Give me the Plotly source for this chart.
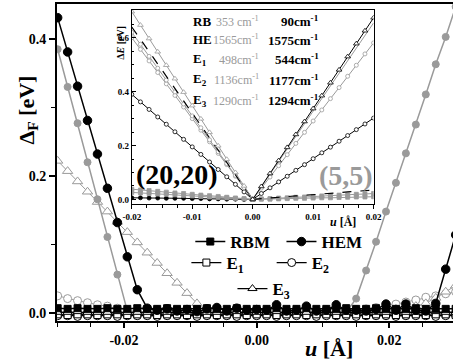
import plotly.graph_objects as go

# ---------------- main panel data ----------------
u_main = [-0.030, -0.0285, -0.027, -0.0255, -0.024, -0.0225, -0.021, -0.0195, -0.018, -0.0165,
          -0.015, -0.0135, -0.012, -0.0105, -0.009, -0.0075, -0.006, -0.0045, -0.003, -0.0015,
          0.0, 0.0015, 0.003, 0.0045, 0.006, 0.0075, 0.009, 0.0105, 0.012, 0.0135,
          0.015, 0.0165, 0.018, 0.0195, 0.021, 0.0225, 0.024, 0.0255, 0.027, 0.0285,
          0.030]

hem_2020 = [0.431, 0.381, 0.331, 0.281, 0.232, 0.182, 0.132, 0.082, 0.034, 0.007,
            0.004, 0.006, 0.003, 0.005, 0.002, 0.006, 0.008, 0.003, 0.007, 0.004,
            0.005, 0.004, 0.012, 0.003, 0.004, 0.010, 0.003, 0.004, 0.012, 0.004,
            0.004, 0.003, 0.005, 0.013, 0.004, 0.013, 0.004, 0.003, 0.014, 0.064,
            0.114]
rbm_2020 = [0.007, 0.006, 0.007, 0.006, 0.006, 0.007, 0.006, 0.006, 0.007, 0.006,
            0.006, 0.007, 0.006, 0.006, 0.006, 0.007, 0.006, 0.006, 0.007, 0.006,
            0.006, 0.006, 0.007, 0.006, 0.006, 0.007, 0.006, 0.006, 0.006, 0.007,
            0.006, 0.006, 0.007, 0.006, 0.006, 0.006, 0.007, 0.006, 0.006, 0.006,
            0.006]
e1_2020 = [-0.002, -0.003, -0.002, -0.002, -0.003, -0.002, -0.002, -0.003, -0.002, -0.002,
           -0.003, -0.002, -0.002, -0.003, -0.002, -0.002, -0.003, -0.002, -0.002, -0.003,
           -0.002, -0.002, -0.003, -0.002, -0.002, -0.003, -0.002, -0.002, -0.003, -0.002,
           -0.002, -0.003, -0.002, -0.002, -0.003, -0.002, -0.002, -0.003, -0.002, -0.002,
           -0.003]
e2_2020 = [-0.004, -0.004, -0.005, -0.004, -0.004, -0.004, -0.005, -0.004, -0.004, -0.004,
           -0.005, -0.004, -0.004, -0.004, -0.005, -0.004, -0.004, -0.004, -0.005, -0.004,
           -0.004, -0.004, -0.005, -0.004, -0.004, -0.004, -0.005, -0.004, -0.004, -0.004,
           -0.005, -0.004, -0.004, -0.004, -0.005, -0.004, -0.004, -0.004, -0.005, -0.004,
           -0.004]
e3_2020 = [0.001, 0.001, 0.002, 0.001, 0.001, 0.001, 0.002, 0.001, 0.001, 0.001,
           0.002, 0.001, 0.001, 0.001, 0.002, 0.001, 0.001, 0.001, 0.002, 0.001,
           0.001, 0.001, 0.002, 0.001, 0.001, 0.001, 0.002, 0.001, 0.001, 0.001,
           0.002, 0.001, 0.001, 0.001, 0.002, 0.001, 0.001, 0.001, 0.002, 0.001,
           0.001]

hem_55 = [0.385, 0.330, 0.277, 0.220, 0.166, 0.111, 0.056, 0.003, 0.001, 0.000,
          0.001, 0.000, 0.001, 0.000, 0.001, 0.000, 0.001, 0.000, 0.001, 0.000,
          0.001, 0.000, 0.001, 0.000, 0.001, 0.000, 0.001, 0.000, 0.001, 0.001,
          0.021, 0.062, 0.104, 0.148, 0.190, 0.233, 0.275, 0.319, 0.363, 0.403,
          0.447]
e3_55 = [0.222, 0.207, 0.192, 0.177, 0.162, 0.148, 0.133, 0.118, 0.103, 0.088,
         0.073, 0.058, 0.044, 0.029, 0.014, 0.005, 0.002, 0.003, 0.002, 0.002,
         0.001, 0.002, 0.003, 0.002, 0.002, 0.003, 0.002, 0.002, 0.003, 0.002,
         0.003, 0.004, 0.004, 0.005, 0.006, 0.008, 0.010, 0.014, 0.022, 0.031,
         0.040]
e2_55 = [0.025, 0.021, 0.018, 0.015, 0.012, 0.010, 0.007, 0.004, 0.002, 0.001,
         0.000, 0.000, 0.000, 0.000, 0.000, 0.000, 0.000, 0.000, 0.000, 0.000,
         0.000, 0.000, 0.000, 0.000, 0.000, 0.000, 0.000, 0.001, 0.001, 0.002,
         0.004, 0.006, 0.008, 0.011, 0.013, 0.016, 0.019, 0.023, 0.025, 0.028,
         0.031]
rbm_55 = [0.001, 0.002, 0.001, 0.001, 0.002, 0.001, 0.001, 0.002, 0.001, 0.001,
          0.002, 0.001, 0.001, 0.002, 0.001, 0.001, 0.002, 0.001, 0.001, 0.002,
          0.001, 0.001, 0.002, 0.001, 0.001, 0.002, 0.001, 0.001, 0.002, 0.001,
          0.001, 0.002, 0.001, 0.001, 0.002, 0.001, 0.001, 0.002, 0.001, 0.001,
          0.002]
e1_55 = [-0.003, -0.003, -0.004, -0.003, -0.003, -0.004, -0.003, -0.003, -0.004, -0.003,
         -0.003, -0.004, -0.003, -0.003, -0.004, -0.003, -0.003, -0.004, -0.003, -0.003,
         -0.004, -0.003, -0.003, -0.004, -0.003, -0.003, -0.004, -0.003, -0.003, -0.004,
         -0.003, -0.003, -0.004, -0.003, -0.003, -0.004, -0.003, -0.003, -0.004, -0.003,
         -0.003]

# ---------------- inset data ----------------
u_in_neg = [-0.02, -0.01857, -0.01714, -0.01571, -0.01429, -0.01286, -0.01143, -0.01,
            -0.00857, -0.00714, -0.00571, -0.00429, -0.00286, -0.00143, 0.0]
u_in_pos = [0.0, 0.00143, 0.00286, 0.00429, 0.00571, 0.00714, 0.00857, 0.01,
            0.01143, 0.01286, 0.01429, 0.01571, 0.01714, 0.01857, 0.02]

L1 = [0.697, 0.647, 0.597, 0.548, 0.498, 0.448, 0.398, 0.348, 0.299, 0.249, 0.199, 0.149, 0.100, 0.050, 0.0]
L2 = [0.640, 0.594, 0.549, 0.503, 0.457, 0.411, 0.366, 0.320, 0.274, 0.229, 0.183, 0.137, 0.091, 0.046, 0.0]
L3 = [0.620, 0.576, 0.531, 0.487, 0.443, 0.399, 0.354, 0.310, 0.266, 0.221, 0.177, 0.133, 0.089, 0.044, 0.0]
L4 = [0.600, 0.557, 0.514, 0.471, 0.429, 0.386, 0.343, 0.300, 0.257, 0.214, 0.171, 0.129, 0.086, 0.043, 0.0]
L5 = [0.390, 0.362, 0.334, 0.306, 0.279, 0.251, 0.223, 0.195, 0.167, 0.139, 0.111, 0.084, 0.056, 0.028, 0.0]
L6 = [0.038, 0.035, 0.033, 0.030, 0.027, 0.024, 0.022, 0.019, 0.016, 0.014, 0.011, 0.008, 0.005, 0.003, 0.0]
L7 = [0.026, 0.024, 0.022, 0.020, 0.019, 0.017, 0.015, 0.013, 0.011, 0.009, 0.007, 0.006, 0.004, 0.002, 0.0]
L8 = [0.006, 0.006, 0.005, 0.005, 0.004, 0.004, 0.004, 0.003, 0.003, 0.002, 0.002, 0.001, 0.001, 0.0, 0.0]

R1 = [0.0, 0.048, 0.096, 0.144, 0.193, 0.241, 0.289, 0.337, 0.385, 0.433, 0.481, 0.530, 0.578, 0.626, 0.674]
R2 = [0.0, 0.047, 0.094, 0.140, 0.187, 0.234, 0.281, 0.328, 0.374, 0.421, 0.468, 0.515, 0.561, 0.608, 0.655]
R3 = [0.0, 0.042, 0.083, 0.125, 0.166, 0.208, 0.249, 0.291, 0.332, 0.374, 0.415, 0.457, 0.498, 0.540, 0.581]
R4 = [0.0, 0.022, 0.043, 0.065, 0.086, 0.108, 0.129, 0.151, 0.173, 0.194, 0.216, 0.237, 0.259, 0.280, 0.302]
R5 = [0.0, 0.003, 0.005, 0.008, 0.010, 0.013, 0.015, 0.018, 0.020, 0.023, 0.025, 0.028, 0.030, 0.033, 0.035]
R6 = [0.0, 0.002, 0.003, 0.005, 0.006, 0.008, 0.009, 0.011, 0.013, 0.014, 0.016, 0.017, 0.019, 0.020, 0.022]
R7 = [0.0, 0.001, 0.001, 0.002, 0.003, 0.004, 0.004, 0.005, 0.006, 0.006, 0.007, 0.008, 0.009, 0.009, 0.010]

mode_labels = ["RB", "HE", "E<sub>1</sub>", "E<sub>2</sub>", "E<sub>3</sub>"]
freq_55 = ["353 cm<sup>-1</sup>", "1565cm<sup>-1</sup>", "498cm<sup>-1</sup>",
           "1136cm<sup>-1</sup>", "1290cm<sup>-1</sup>"]
freq_2020 = ["90cm<sup>-1</sup>", "1575cm<sup>-1</sup>", "544cm<sup>-1</sup>",
             "1177cm<sup>-1</sup>", "1294cm<sup>-1</sup>"]

main_xticks = [-0.02, 0.0, 0.02]
main_xtext = ["-0.02", "0.00", "0.02"]
main_yticks = [0.0, 0.2, 0.4]
main_ytext = ["0.0", "0.2", "0.4"]
in_xticks = [-0.02, -0.01, 0.0, 0.01, 0.02]
in_xtext = ["-0.02", "-0.01", "0.00", "0.01", "0.02"]
in_yticks = [0.0, 0.2, 0.4, 0.6]
in_ytext = ["0.0", "0.2", "0.4", "0.6"]

# ---------------- layout helpers ----------------
W, H = 461, 363
ML, MR, MT, MB = 57, 0, 4, 42
PW, PH = W - ML - MR, H - MT - MB


def px(x):
    return (x - ML) / PW


def py(y):
    return (H - MB - y) / PH


SERIF = "Liberation Serif, Times New Roman, serif"
GRAY = "#9a9a9a"
BLACK = "#000000"

fig = go.Figure()


def main_trace(y, color, symbol, size, fill, lw=1.5, name=None, legend=None, dash="solid"):
    fig.add_trace(go.Scatter(
        x=u_main, y=y, mode="lines+markers",
        line=dict(color=color, width=lw, dash=dash),
        marker=dict(symbol=symbol, size=size, color=fill,
                    line=dict(color=color, width=1)),
        name=name, showlegend=legend is not None,
        legend=legend if legend else "legend",
        xaxis="x", yaxis="y"))


# gray (5,5) set first
main_trace(e1_55, GRAY, "square", 6, "white", lw=1)
main_trace(rbm_55, GRAY, "square", 6, GRAY, lw=1)
main_trace(e2_55, GRAY, "circle", 8, "white", lw=1)
main_trace(e3_55, GRAY, "triangle-up", 9, "white", lw=1)
main_trace(hem_55, GRAY, "circle", 7, GRAY, lw=1.5)
# black (20,20) set
main_trace(e2_2020, BLACK, "circle", 8, "white", lw=1.2, name="<b>E<sub>2</sub></b>", legend="legend4")
main_trace(e1_2020, BLACK, "square", 7, "white", lw=1.2, name="<b>E<sub>1</sub></b>", legend="legend3")
main_trace(e3_2020, BLACK, "triangle-up", 8, "white", lw=1.2, name="<b>E<sub>3</sub></b>", legend="legend5")
main_trace(rbm_2020, BLACK, "square", 7, BLACK, lw=1.5, name="<b>RBM</b>", legend="legend")
main_trace(hem_2020, BLACK, "circle", 8.5, BLACK, lw=1.5, name="<b>HEM</b>", legend="legend2")


def inset_trace(x, y, color, symbol=None, size=4, fill="white", dash="solid", lw=1):
    fig.add_trace(go.Scatter(
        x=x, y=y, mode="lines+markers" if symbol else "lines",
        line=dict(color=color, width=lw, dash=dash),
        marker=dict(symbol=symbol or "circle", size=size, color=fill,
                    line=dict(color=color, width=0.8)),
        showlegend=False, xaxis="x2", yaxis="y2"))


inset_trace(u_in_neg, L8, BLACK, "circle", 4, BLACK)
inset_trace(u_in_neg, L7, GRAY, "square", 4, GRAY)
inset_trace(u_in_neg, L6, GRAY, "square", 4, GRAY)
inset_trace(u_in_neg, L5, BLACK, "circle", 4, "white")
inset_trace(u_in_neg, L4, GRAY, "circle", 4, "white")
inset_trace(u_in_neg, L3, GRAY, "circle", 4, "white")
inset_trace(u_in_neg, L2, BLACK, None, dash="dash", lw=1.2)
inset_trace(u_in_neg, L1, GRAY, "triangle-up", 5, "white")

inset_trace(u_in_pos, R7, GRAY, "square", 4, GRAY)
inset_trace(u_in_pos, R6, GRAY, "square", 4, GRAY)
inset_trace(u_in_pos, R5, BLACK, None, dash="dash", lw=1.2)
inset_trace(u_in_pos, R4, BLACK, "circle", 4, "white")
inset_trace(u_in_pos, R3, GRAY, "circle", 4, "white")
inset_trace(u_in_pos, R2, GRAY, None)
inset_trace(u_in_pos, R1, BLACK, "triangle-up", 5, "white")

tickfont_main = dict(family=SERIF, size=14, color=BLACK, weight="bold")
tickfont_in = dict(family=SERIF, size=9, color=BLACK, weight="bold")

leg_font = dict(family=SERIF, size=17, color=BLACK)


def leg(x, y):
    return dict(x=px(x), y=py(y), xanchor="left", yanchor="middle",
                bgcolor="rgba(0,0,0,0)", borderwidth=0, font=leg_font,
                orientation="v", tracegroupgap=0)


fig.update_layout(
    width=W, height=H,
    margin=dict(l=ML, r=MR, t=MT, b=MB),
    paper_bgcolor="white", plot_bgcolor="white",
    font=dict(family=SERIF, color=BLACK),
    xaxis=dict(domain=[0, 1], range=[-0.0301, 0.0296], showgrid=False, zeroline=False,
               showline=True, linewidth=2, linecolor=BLACK, mirror=True,
               tickmode="array", tickvals=main_xticks, ticktext=main_xtext,
               ticks="outside", ticklen=5, tickwidth=1.5, tickcolor=BLACK,
               tickfont=tickfont_main,
               minor=dict(tickmode="linear", tick0=0, dtick=0.005, ticks="outside",
                          ticklen=4, tickwidth=1.2, tickcolor=BLACK)),
    yaxis=dict(domain=[0, 1], range=[-0.0117, 0.451], showgrid=False, zeroline=False,
               showline=True, linewidth=2, linecolor=BLACK, mirror=False,
               tickmode="array", tickvals=main_yticks, ticktext=main_ytext,
               ticks="outside", ticklen=6, tickwidth=1.5, tickcolor=BLACK,
               tickfont=tickfont_main,
               minor=dict(tickmode="linear", tick0=0, dtick=0.1, ticks="outside",
                          ticklen=4, tickwidth=1.2, tickcolor=BLACK)),
    xaxis2=dict(domain=[px(133.3), px(380)], anchor="y2", range=[-0.02, 0.02],
                showgrid=False, zeroline=False, showline=True, linewidth=1,
                linecolor=BLACK, mirror=True,
                tickmode="array", tickvals=in_xticks, ticktext=in_xtext,
                ticks="outside", ticklen=4, tickwidth=1, tickcolor=BLACK,
                tickfont=tickfont_in, ticklabelstandoff=0,
                minor=dict(tickmode="linear", tick0=0, dtick=0.0025, ticks="outside",
                           ticklen=3, tickwidth=1, tickcolor=BLACK)),
    yaxis2=dict(domain=[py(204), py(10)], anchor="x2", range=[-0.017, 0.703],
                showgrid=False, zeroline=False, showline=True, linewidth=1,
                linecolor=BLACK, mirror=True,
                tickmode="array", tickvals=in_yticks, ticktext=in_ytext,
                ticks="inside", ticklen=4, tickwidth=1, tickcolor=BLACK,
                tickfont=tickfont_in, ticklabelstandoff=0,
                minor=dict(tickmode="linear", tick0=0, dtick=0.05, ticks="inside",
                           ticklen=2, tickwidth=1, tickcolor=BLACK)),
    legend=leg(193, 242),
    legend2=leg(286, 242),
    legend3=leg(189, 263),
    legend4=leg(276, 263),
    legend5=leg(236, 289),
)

ann = []


def text(x, y, t, size, color=BLACK, xanchor="center", angle=0):
    ann.append(dict(x=px(x), y=py(y), xref="paper", yref="paper",
                    xanchor=xanchor, yanchor="middle", textangle=angle,
                    text=t, showarrow=False,
                    font=dict(family=SERIF, size=size, color=color)))


# axis titles
text(27, 110, "<b>Δ<sub>F</sub> [eV]</b>", 22, angle=-90)
text(334, 349, "<b><i>u</i> [Å]</b>", 22)
# inset titles
text(121, 43, "<b>Δ<i>E</i> [eV]</b>", 10, angle=-90)
text(349, 222, "<b><i>u</i> [Å]</b>", 12)
# big labels
text(179, 174, "<b>(20,20)</b>", 28)
text(352, 175, "<b>(5,5)</b>", 28, color=GRAY)
# frequency table
rows_y = [21, 40, 59, 80, 100]
for lab, f55, f20, yy in zip(mode_labels, freq_55, freq_2020, rows_y):
    text(194, yy, "<b>" + lab + "</b>", 13, xanchor="left")
    text(265, yy, f55, 12, color=GRAY, xanchor="right")
    text(326, yy, "<b>" + f20 + "</b>", 13, xanchor="right")

fig.update_layout(annotations=ann)
fig.write_html("out.html", config={"displayModeBar": False},
               post_script="document.body.style.margin='0px';")
